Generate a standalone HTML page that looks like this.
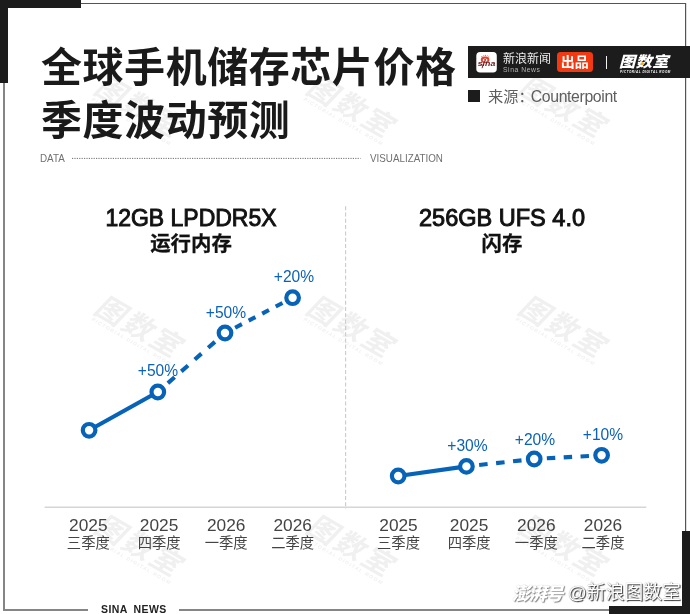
<!DOCTYPE html>
<html lang="zh-CN">
<head>
<meta charset="utf-8">
<title>全球手机储存芯片价格季度波动预测</title>
<style>
html,body{margin:0;padding:0;}
body{width:690px;height:614px;position:relative;overflow:hidden;background:#fff;
  font-family:"Liberation Sans","Noto Sans CJK SC",sans-serif;color:#1a1a1a;}
.abs{position:absolute;white-space:nowrap;}
.blk{position:absolute;background:#1c1c1c;}
.ln{position:absolute;background:#6a6a6a;}
.title{position:absolute;left:41px;font-family:"Liberation Sans","Noto Sans CJK SC",sans-serif;
  font-weight:700;font-size:41px;line-height:52px;color:#1a1a1a;white-space:nowrap;letter-spacing:0.55px;}
.wm{position:absolute;white-space:nowrap;color:#f0f0f0;font-weight:700;font-style:italic;font-size:29px;
  transform:rotate(30deg) translate(-3.5px,-2.3px);letter-spacing:2.4px;transform-origin:0 0;line-height:30px;}
.wm small{display:block;font-size:5px;letter-spacing:1.2px;line-height:7px;font-weight:700;margin-left:3px;margin-top:-2px;}
.ct{position:absolute;text-align:center;white-space:nowrap;color:#111;}
.lat{font-size:23.7px;line-height:28px;font-weight:400;-webkit-text-stroke:0.95px #111;}
.cn{font-size:20.4px;line-height:24px;font-weight:700;-webkit-text-stroke:0.3px #111;}
.xl{position:absolute;width:80px;text-align:center;color:#444;white-space:nowrap;}
.xl b{display:block;font-weight:400;font-size:17.3px;line-height:20px;}
.xl i{display:block;font-style:normal;font-size:14.3px;line-height:16px;margin-top:-0.3px;}
.pl{position:absolute;width:60px;text-align:center;color:#0b62b6;font-size:15.6px;line-height:18px;white-space:nowrap;}
</style>
</head>
<body>

<!-- watermarks -->
<div class="wm" style="left:107.4px;top:73.9px;">图数室<small>PICTORIAL DIGITAL ROOM</small></div>
<div class="wm" style="left:319.2px;top:73.9px;">图数室<small>PICTORIAL DIGITAL ROOM</small></div>
<div class="wm" style="left:531px;top:73.9px;">图数室<small>PICTORIAL DIGITAL ROOM</small></div>
<div class="wm" style="left:107.4px;top:293.5px;">图数室<small>PICTORIAL DIGITAL ROOM</small></div>
<div class="wm" style="left:319.2px;top:293.5px;">图数室<small>PICTORIAL DIGITAL ROOM</small></div>
<div class="wm" style="left:531px;top:293.5px;">图数室<small>PICTORIAL DIGITAL ROOM</small></div>
<div class="wm" style="left:107.4px;top:513.1px;">图数室<small>PICTORIAL DIGITAL ROOM</small></div>
<div class="wm" style="left:319.2px;top:513.1px;">图数室<small>PICTORIAL DIGITAL ROOM</small></div>
<div class="wm" style="left:531px;top:513.1px;">图数室<small>PICTORIAL DIGITAL ROOM</small></div>

<!-- frame -->
<div class="abs" style="left:81px;top:3px;width:605px;height:1px;background:#555;"></div>
<div class="abs" style="left:3px;top:82px;width:2px;height:528px;background:#858585;"></div>
<div class="abs" style="left:685px;top:3px;width:1px;height:529px;background:#555;"></div>
<div class="abs" style="left:686px;top:3px;width:1px;height:529px;background:#ddd;"></div>
<div class="abs" style="left:3px;top:609px;width:85px;height:2px;background:#858585;"></div>
<div class="abs" style="left:179px;top:609px;width:431px;height:2px;background:#858585;"></div>
<div class="blk" style="left:0;top:0;width:81px;height:8px;"></div>
<div class="blk" style="left:0;top:0;width:8px;height:83px;"></div>
<div class="blk" style="left:682px;top:531px;width:8px;height:83px;"></div>
<div class="blk" style="left:609px;top:606px;width:81px;height:8px;"></div>

<!-- title -->
<div class="title" style="top:42px;">全球手机储存芯片价格</div>
<div class="title" style="top:95px;">季度波动预测</div>

<!-- banner -->
<div class="blk" style="left:468px;top:46px;width:222px;height:32px;"></div>
<svg class="abs" style="left:476px;top:51px;" width="22" height="23" viewBox="0 0 22 23">
  <rect x="0.3" y="0.9" width="20.5" height="20.7" rx="3.8" fill="#fff"/>
  <path d="M6.2 6 L5.6 5 M7.9 5.3 L7.7 4.3 M9.4 5.1 L9.5 3.9 M10.9 5.4 L11.5 4.5 M12.2 6.2 L13.1 5.5" fill="none" stroke="#e2452f" stroke-width="0.8"/>
  <ellipse cx="9.1" cy="8.8" rx="4.3" ry="3.3" fill="#e2452f"/>
  <ellipse cx="9.1" cy="9" rx="2.4" ry="1.6" fill="#fff"/>
  <circle cx="9.1" cy="8.9" r="0.95" fill="#8a2320"/>
  <text x="1.7" y="15.4" font-family="Liberation Sans, sans-serif" font-size="7" font-weight="700" font-style="italic" fill="#6e1719" textLength="17.6" lengthAdjust="spacingAndGlyphs">sina</text>
  <path d="M7.2 13 L6.1 17.2" stroke="#6e1719" stroke-width="0.9" fill="none"/>
</svg>
<div class="abs" style="left:503px;top:52px;color:#ececec;font-size:12px;line-height:14px;">新浪新闻</div>
<div class="abs" style="left:503px;top:65.5px;color:#b4b4b4;font-size:6.8px;line-height:8px;letter-spacing:0.55px;">Sina News</div>
<div class="abs" style="left:556.5px;top:51.7px;width:36.5px;height:20.7px;background:#f23a12;border-radius:3.5px;color:#fff;font-weight:700;font-size:14px;line-height:20px;text-align:center;">出品</div>
<div class="abs" style="left:605.7px;top:56px;width:1.2px;height:13px;background:#f2f2f2;"></div>
<div class="abs" style="left:619.2px;top:54.3px;color:#fff;font-weight:900;font-style:italic;font-size:15px;line-height:16px;letter-spacing:0.4px;transform:scaleX(1.08);transform-origin:0 0;">图数室</div>
<div class="abs" style="left:641.2px;top:62px;width:3px;height:3px;border-radius:50%;background:#f5b21a;"></div>
<div class="abs" style="left:620px;top:70.2px;color:#fff;font-weight:700;font-style:italic;font-size:3px;line-height:4px;letter-spacing:0.55px;">PICTORIAL DIGITAL ROOM</div>

<!-- source -->
<div class="blk" style="left:468px;top:90px;width:12px;height:12px;"></div>
<div class="abs" style="left:488px;top:86.6px;font-size:15.2px;line-height:20px;color:#5e5e5e;">来源：<span style="font-size:15.8px;letter-spacing:-0.36px;margin-left:-2.8px;">Counterpoint</span></div>

<!-- DATA row -->
<div class="abs" style="left:39.8px;top:152.2px;font-size:10.6px;line-height:12px;color:#707070;transform:scaleX(0.93);transform-origin:0 0;">DATA</div>
<svg class="abs" style="left:0;top:150px;" width="690" height="16" viewBox="0 150 690 16"><line x1="72" y1="158.4" x2="360.5" y2="158.4" stroke="#6f6f6f" stroke-width="1" stroke-dasharray="1.2 1.2"/></svg>
<div class="abs" style="left:370.2px;top:152.2px;font-size:10.6px;line-height:12px;color:#707070;transform:scaleX(0.927);transform-origin:0 0;">VISUALIZATION</div>

<!-- chart titles -->
<div class="ct lat" style="left:91px;width:200px;top:204px;transform:scaleX(0.97);">12GB LPDDR5X</div>
<div class="ct cn" style="left:91px;width:200px;top:231.5px;">运行内存</div>
<div class="ct lat" style="left:402px;width:200px;top:204px;transform:scaleX(0.993);">256GB UFS 4.0</div>
<div class="ct cn" style="left:402px;width:200px;top:231.5px;">闪存</div>

<!-- chart -->
<svg class="abs" style="left:0;top:0;" width="690" height="614" viewBox="0 0 690 614">
  <line x1="345.6" y1="206.2" x2="345.6" y2="509" stroke="#cbcbcb" stroke-width="1.1" stroke-dasharray="4 2.3"/>
  <line x1="44.6" y1="507.2" x2="646.3" y2="507.2" stroke="#d6d6d6" stroke-width="1.4"/>
  <g fill="none" stroke="#0763b8" stroke-width="4.1">
    <line x1="89.1" y1="430.3" x2="157.8" y2="392.0"/>
    <line x1="157.8" y1="392.0" x2="225.0" y2="333.0" stroke-dasharray="8.94 8.94" stroke-dashoffset="4.47"/>
    <line x1="225.0" y1="333.0" x2="292.6" y2="297.7" stroke-dasharray="7.63 7.63" stroke-dashoffset="3.81"/>
    <line x1="398.2" y1="476.0" x2="466.4" y2="466.4"/>
    <line x1="466.4" y1="466.4" x2="534.2" y2="459.0" stroke-dasharray="8.53 8.53" stroke-dashoffset="4.26"/>
    <line x1="534.2" y1="459.0" x2="601.6" y2="455.3" stroke-dasharray="8.44 8.44" stroke-dashoffset="4.22"/>
  </g>
  <g fill="#fff" stroke="#0763b8" stroke-width="4.2">
    <circle cx="89.1" cy="430.3" r="6.3"/>
    <circle cx="157.8" cy="392.0" r="6.3"/>
    <circle cx="225.0" cy="333.0" r="6.3"/>
    <circle cx="292.6" cy="297.7" r="6.3"/>
    <circle cx="398.2" cy="476.0" r="6.3"/>
    <circle cx="466.4" cy="466.4" r="6.3"/>
    <circle cx="534.2" cy="459.0" r="6.3"/>
    <circle cx="601.6" cy="455.3" r="6.3"/>
  </g>
</svg>

<!-- point labels -->
<div class="pl" style="left:128px;top:362.4px;">+50%</div>
<div class="pl" style="left:196px;top:304.4px;">+50%</div>
<div class="pl" style="left:264px;top:268.4px;">+20%</div>
<div class="pl" style="left:437.5px;top:437.4px;">+30%</div>
<div class="pl" style="left:505px;top:431.4px;">+20%</div>
<div class="pl" style="left:573px;top:426.4px;">+10%</div>

<!-- x labels -->
<div class="xl" style="left:48.3px;top:514.8px;"><b>2025</b><i>三季度</i></div>
<div class="xl" style="left:119.1px;top:514.8px;"><b>2025</b><i>四季度</i></div>
<div class="xl" style="left:186.2px;top:514.8px;"><b>2026</b><i>一季度</i></div>
<div class="xl" style="left:252.7px;top:514.8px;"><b>2026</b><i>二季度</i></div>
<div class="xl" style="left:358.5px;top:514.8px;"><b>2025</b><i>三季度</i></div>
<div class="xl" style="left:429.1px;top:514.8px;"><b>2025</b><i>四季度</i></div>
<div class="xl" style="left:496.3px;top:514.8px;"><b>2026</b><i>一季度</i></div>
<div class="xl" style="left:563px;top:514.8px;"><b>2026</b><i>二季度</i></div>

<!-- footer -->
<div class="abs" style="left:101px;top:603px;font-size:10.5px;line-height:12px;font-weight:700;color:#222;letter-spacing:0.4px;word-spacing:3px;">SINA NEWS</div>

<!-- bottom-right watermark -->
<div class="abs" style="left:512px;top:582.8px;font-size:18px;line-height:22px;color:#fff;font-weight:900;font-style:italic;text-shadow:1px 1px 1px rgba(0,0,0,.45),0 0 1px rgba(0,0,0,.2);letter-spacing:-1.3px;">澎湃号</div>
<div class="abs" style="left:567.8px;top:581.3px;font-size:18.8px;line-height:24px;color:#fff;text-shadow:1px 1px 1px rgba(0,0,0,.8),0 0 1px rgba(0,0,0,.5);">@新浪图数室</div>

</body>
</html>
